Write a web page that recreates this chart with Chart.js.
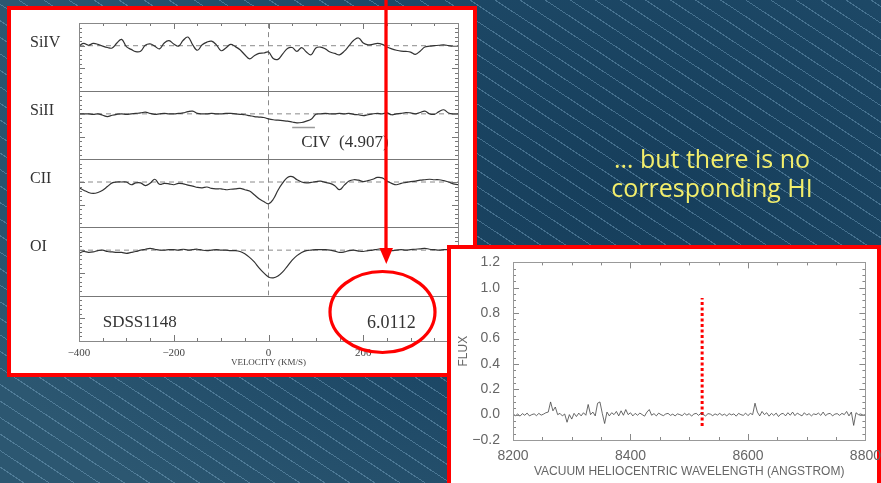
<!DOCTYPE html>
<html>
<head>
<meta charset="utf-8">
<script src="https://cdn.jsdelivr.net/npm/chart.js@4.4.1/dist/chart.umd.min.js"></script>
<style>
html, body { margin: 0; padding: 0; }
body {
  width: 881px; height: 483px; overflow: hidden; position: relative;
  background:
    repeating-linear-gradient(33.4deg, rgba(0,0,0,0) 0px, rgba(0,0,0,0) 12.8px, rgba(140,185,215,0.38) 12.8px, rgba(140,185,215,0.38) 13.8px),
    radial-gradient(ellipse 700px 420px at 640px 190px, #163e5b 0%, #1d4866 55%, #2c5771 100%);
}
.box { position: absolute; background: #fff; border: 4px solid #ff0000; box-sizing: border-box; }
#leftBox { left: 7px; top: 6px; width: 470px; height: 371px; }
#rightBox { left: 447px; top: 245px; width: 434px; height: 260px; }
canvas { position: absolute; }
#leftChart { left: 11px; top: 10px; }
#rightChart { left: 451px; top: 249px; }
#marks { position: absolute; left: 0; top: 0; }
#note {
  position: absolute; left: 560px; top: 144px; width: 304px; text-align: center;
  color: #f3ee6b; font-family: "Comic Sans MS", "Open Sans", sans-serif; font-size: 25px; line-height: 29px;
}
</style>
</head>
<body>
<div class="box" id="leftBox"></div>
<canvas id="leftChart" width="462" height="363"></canvas>
<svg id="marks" width="881" height="483">
  <line x1="386" y1="0" x2="386" y2="250" stroke="#ff0000" stroke-width="3.3"/>
  <polygon points="379.5,248 393,248 386.3,264" fill="#ff0000"/>
  <ellipse cx="382.5" cy="312" rx="52.5" ry="40.5" fill="none" stroke="#ff0000" stroke-width="3.2"/>
</svg>
<div class="box" id="rightBox"></div>
<canvas id="rightChart" width="430" height="234"></canvas>
<div id="note">… but there is no<br>corresponding HI</div>

<script>
// Geschwindigkeit (km/s) - gemeinsames Raster fuer alle vier Linien
var velocity = [
  -400, -390, -380, -370, -360, -350, -340, -330, -320, -310,
  -300, -290, -280, -270, -260, -250, -240, -230, -220, -210,
  -200, -190, -180, -170, -160, -150, -140, -130, -120, -110,
  -100, -90, -80, -70, -60, -50, -40, -30, -20, -10,
  0, 10, 20, 30, 40, 50, 60, 70, 80, 90,
  100, 110, 120, 130, 140, 150, 160, 170, 180, 190,
  200, 210, 220, 230, 240, 250, 260, 270, 280, 290,
  300, 310, 320, 330, 340, 350, 360, 370, 380, 390,
  400
];

var siIV = [
  1.00, 1.05, 1.01, 1.05, 1.03, 0.99, 0.96, 0.95, 1.06, 1.14,
  0.98, 0.92, 0.87, 0.88, 1.01, 1.04, 0.99, 0.93, 1.06, 1.11,
  1.04, 0.99, 1.12, 1.19, 1.02, 0.90, 1.02, 1.08, 1.10, 1.02,
  0.89, 0.95, 1.03, 0.98, 0.91, 0.80, 0.71, 0.78, 0.83, 0.84,
  0.86, 0.72, 0.70, 0.82, 0.94, 0.96, 0.875, 0.96, 0.86, 0.80,
  0.95, 0.97, 0.93, 0.86, 0.83, 0.80, 0.88, 1.00, 1.12, 1.17,
  1.06, 1.02, 1.03, 1.05, 1.03, 0.97, 0.93, 0.90, 0.88, 0.875,
  0.86, 0.81, 0.88, 0.97, 0.99, 1.00, 1.01, 1.02, 1.00, 0.985,
  0.99
];

var siII = [
  1.00, 1.00, 1.00, 0.99, 1.00, 0.97, 0.94, 0.97, 0.99, 1.00,
  0.99, 1.00, 1.01, 1.02, 1.04, 1.01, 0.99, 1.00, 1.01, 1.00,
  1.00, 1.01, 1.02, 1.05, 1.06, 1.01, 1.00, 1.00, 1.01, 1.00,
  1.00, 1.01, 1.01, 1.00, 0.99, 0.98, 0.96, 0.94, 0.93, 0.92,
  0.89, 0.87, 0.86, 0.85, 0.84, 0.82, 0.80, 0.81, 0.84, 0.88,
  0.99, 1.00, 1.01, 1.00, 1.00, 1.01, 1.00, 1.01, 0.99, 0.98,
  0.96, 0.98, 1.00, 1.01, 1.00, 1.02, 0.98, 1.00, 1.01, 1.03,
  1.02, 1.00, 1.03, 1.06, 1.00, 0.99, 1.05, 1.09, 1.02, 1.00,
  1.00
];

var cII = [
  0.87, 0.82, 0.77, 0.75, 0.77, 0.82, 0.90, 0.98, 1.00, 1.00,
  1.00, 0.94, 0.98, 0.98, 0.92, 0.97, 1.06, 0.95, 0.97, 0.96,
  0.94, 0.97, 0.96, 0.93, 0.91, 0.88, 0.87, 0.89, 0.86, 0.85,
  0.85, 0.83, 0.84, 0.85, 0.86, 0.83, 0.80, 0.72, 0.63, 0.57,
  0.52, 0.62, 0.82, 0.98, 1.10, 1.12, 1.05, 1.00, 0.98, 0.99,
  1.01, 1.02, 0.99, 0.97, 0.92, 0.83, 0.93, 1.02, 1.05, 1.04,
  1.01, 1.03, 1.06, 1.10, 1.09, 1.02, 0.97, 0.94, 0.97, 0.99,
  1.01, 1.02, 1.04, 1.05, 1.06, 1.05, 1.05, 1.03, 1.00, 0.96,
  0.94
];

var oI = [
  0.93, 0.97, 0.95, 0.96, 0.99, 1.00, 0.97, 0.96, 0.95, 0.95,
  0.93, 0.95, 0.97, 1.00, 1.02, 1.04, 1.02, 1.00, 1.00, 1.01,
  1.01, 1.00, 1.02, 1.00, 1.01, 1.02, 1.00, 0.99, 1.00, 1.01,
  1.00, 1.00, 0.99, 0.99, 0.97, 0.92, 0.84, 0.74, 0.61, 0.50,
  0.41, 0.39, 0.43, 0.52, 0.65, 0.78, 0.88, 0.95, 0.99, 1.00,
  1.01, 1.01, 1.01, 1.00, 0.98, 0.95, 0.96, 0.99, 1.00, 0.98,
  0.97, 0.99, 1.00, 1.02, 1.03, 1.00, 0.99, 1.00, 1.01, 1.00,
  1.01, 1.02, 1.03, 1.04, 1.02, 1.01, 1.00, 1.01, 1.01, 1.00,
  1.00
];

var ionNames = ['SiIV', 'SiII', 'CII', 'OI'];
var ionSeries = [siIV, siII, cII, oI];
var velocityTicks = [-400, -200, 0, 200, 400];
var civMark = [50, 98];          // Geschwindigkeitsbereich der CIV (4.907) Markierung
var civLevel = 0.70;
var qsoName = 'SDSS1148';
var qsoRedshift = '6.0112';
var civLabel = 'CIV  (4.907)';

// rechtes Spektrum: Wellenlaenge (Angstrom) in 4er Schritten, Fluss
var wavelength = [];
for (var w = 8200; w <= 8800; w += 4) wavelength.push(w);
var flux = [
  0.010, -0.010, 0.005, -0.012, 0.008, -0.005, 0.012, -0.010, 0.000, 0.006,
  -0.008, 0.010, -0.004, 0.004, 0.015, 0.020, 0.100, 0.030, 0.060, 0.000,
  0.010, -0.010, 0.005, -0.060, 0.000, -0.035, 0.010, -0.015, 0.012, -0.010,
  0.015, -0.005, 0.080, 0.000, 0.020, -0.010, 0.090, 0.100, 0.010, -0.070,
  0.020, -0.010, 0.015, 0.000, 0.025, -0.010, 0.030, -0.005, 0.040, 0.000,
  0.015, -0.010, 0.010, -0.005, 0.012, 0.000, -0.012, 0.020, 0.040, -0.005,
  0.008, -0.010, 0.012, 0.000, -0.008, 0.005, 0.010, -0.006, 0.004, -0.010,
  0.006, 0.000, -0.008, 0.010, -0.004, 0.008, -0.012, 0.005, 0.010, -0.006,
  0.012, 0.000, -0.010, 0.008, 0.004, -0.008, 0.006, -0.004, 0.010, -0.006,
  0.004, -0.010, 0.008, -0.002, 0.006, -0.012, 0.010, 0.000, -0.006, 0.012,
  -0.008, 0.010, 0.000, 0.090, 0.020, -0.010, 0.025, 0.000, 0.015, -0.012,
  0.010, -0.006, 0.012, -0.015, 0.005, 0.010, -0.010, 0.015, -0.005, 0.020,
  -0.008, 0.012, 0.000, -0.010, 0.015, -0.004, 0.008, -0.010, 0.006, 0.000,
  0.012, -0.006, 0.020, -0.008, 0.006, 0.010, -0.010, 0.004, 0.008, -0.006,
  0.010, 0.000, 0.025, -0.010, 0.020, -0.085, 0.015, 0.000, 0.005, -0.004,
  0.000
];
var hiWavelength = 8522;          // erwartete Lage von HI (rote Punktlinie)
var hiRange = [-0.09, 0.92];

var minusSign = (s) => String(s).replace('-', '\u2212');

// Rahmen und nach innen zeigende Striche im IDL-Stil
var drawTicks = (chart, o) => {
  var ctx = chart.ctx;
  var a = chart.chartArea;
  var xs = chart.scales.x;
  ctx.save();
  ctx.strokeStyle = o.color;
  ctx.lineWidth = 1;
  ctx.beginPath();
  var n = Math.round((xs.max - xs.min) / o.xMinor);
  for (var i = 0; i <= n; i++) {
    var v = xs.min + i * o.xMinor;
    var px = Math.round(xs.getPixelForValue(v)) + 0.5;
    var len = Math.abs(v / o.xMajor - Math.round(v / o.xMajor)) < 1e-6 ? o.majorLen : o.minorLen;
    ctx.moveTo(px, a.top); ctx.lineTo(px, a.top + len);
    ctx.moveTo(px, a.bottom); ctx.lineTo(px, a.bottom - len);
  }
  o.yAxes.forEach((id, k) => {
    var s = chart.scales[id];
    var m = Math.round((s.max - s.min) / o.yMinor);
    for (var j = 1; j < m; j++) {
      var val = s.min + j * o.yMinor;
      var py = Math.round(s.getPixelForValue(val)) + 0.5;
      var l = Math.abs(val / o.yMajor - Math.round(val / o.yMajor)) < 1e-6 ? o.majorLen : o.minorLen;
      ctx.moveTo(a.left, py); ctx.lineTo(a.left + l, py);
      ctx.moveTo(a.right, py); ctx.lineTo(a.right - l, py);
    }
    if (k < o.yAxes.length - 1) {
      var sy = Math.round(s.bottom) + 0.5;
      ctx.moveTo(a.left, sy); ctx.lineTo(a.right, sy);
    }
  });
  ctx.stroke();
  ctx.strokeStyle = o.frame;
  ctx.strokeRect(Math.round(a.left) + 0.5, Math.round(a.top) + 0.5, Math.round(a.width), Math.round(a.height));
  ctx.restore();
};

var idlFrame = {
  id: 'idlFrame',
  afterDatasetsDraw(chart, args, o) { drawTicks(chart, o); }
};

var panelText = {
  id: 'panelText',
  afterDraw(chart) {
    var ctx = chart.ctx;
    var xs = chart.scales.x;
    ctx.save();
    ctx.fillStyle = '#333';
    ctx.textBaseline = 'middle';
    ctx.font = '16px "Liberation Serif", serif';
    ctx.textAlign = 'left';
    ionNames.forEach((name, i) => {
      var s = chart.scales['p' + (i + 1)];
      ctx.fillText(name, 19, s.getPixelForValue(1) - 3);
    });
    ctx.font = '17px "Liberation Serif", serif';
    ctx.fillText(civLabel, xs.getPixelForValue(69), chart.scales.p2.getPixelForValue(0.375));
    ctx.fillText(qsoName, xs.getPixelForValue(-350), chart.scales.p5.getPixelForValue(0.40));
    ctx.textAlign = 'right';
    ctx.font = '18px "Liberation Serif", serif';
    ctx.fillText(qsoRedshift, xs.getPixelForValue(311), chart.scales.p5.getPixelForValue(0.40));
    ctx.restore();
  }
};

// linkes Diagramm: vier gestapelte Panels + Textpanel
var leftDatasets = [];
ionSeries.forEach((series, i) => {
  var axis = 'p' + (i + 1);
  leftDatasets.push({
    data: velocity.map((v, k) => ({ x: v, y: series[k] })),
    yAxisID: axis, borderColor: '#333', borderWidth: 1.2, pointRadius: 0, tension: 0.4
  });
  leftDatasets.push({
    data: [{ x: velocity[0], y: 1 }, { x: velocity[velocity.length - 1], y: 1 }],
    yAxisID: axis, borderColor: '#8a8a8a', borderWidth: 1, borderDash: [5, 4], pointRadius: 0
  });
  leftDatasets.push({
    data: [{ x: 0, y: 0 }, { x: 0, y: 1.5 }],
    yAxisID: axis, borderColor: '#8a8a8a', borderWidth: 1, borderDash: [5, 4], pointRadius: 0
  });
});
leftDatasets.push({
  data: civMark.map((v) => ({ x: v, y: civLevel })),
  yAxisID: 'p2', borderColor: '#999', borderWidth: 1.5, pointRadius: 0
});

var panelAxis = (weight, max) => ({
  type: 'linear', position: 'left', stack: 'panels', stackWeight: weight,
  min: 0, max: max, offset: false,
  ticks: { display: false }, grid: { display: false }, border: { display: false },
  afterFit: (s) => { s.width = 0; }
});

var leftCtx = document.getElementById('leftChart').getContext('2d');
new Chart(leftCtx, {
  type: 'line',
  data: { datasets: leftDatasets },
  options: {
    responsive: false, animation: false, devicePixelRatio: 1,
    layout: { padding: { left: 68, top: 13, right: 15, bottom: 0 } },
    plugins: {
      legend: { display: false }, tooltip: { enabled: false },
      idlFrame: { color: '#777', frame: '#888', xMinor: 50, xMajor: 200, yMinor: 0.1, yMajor: 0.5,
                  minorLen: 3, majorLen: 6, yAxes: ['p1', 'p2', 'p3', 'p4', 'p5'] }
    },
    scales: {
      x: {
        type: 'linear', min: -400, max: 400,
        afterBuildTicks: (s) => { s.ticks = velocityTicks.map((v) => ({ value: v })); },
        ticks: { callback: minusSign, color: '#444', padding: -2, maxRotation: 0,
                 font: { family: '"Liberation Serif", serif', size: 11 } },
        grid: { display: false }, border: { display: false },
        title: { display: true, text: 'VELOCITY (KM/S)', color: '#444',
                 font: { family: '"Liberation Serif", serif', size: 9 }, padding: { top: 0, bottom: 4.5 } },
        afterFit: (s) => { s.height = 32; }
      },
      // oberstes Panel zuletzt, damit es oben im Stapel landet
      p5: panelAxis(1, 1),
      p4: panelAxis(1.5, 1.5),
      p3: panelAxis(1.5, 1.5),
      p2: panelAxis(1.5, 1.5),
      p1: panelAxis(1.5, 1.5)
    }
  },
  plugins: [idlFrame, panelText]
});

// rechtes Diagramm: Fluss gegen Wellenlaenge
var rightCtx = document.getElementById('rightChart').getContext('2d');
new Chart(rightCtx, {
  type: 'line',
  data: {
    datasets: [
      { data: wavelength.map((w, k) => ({ x: w, y: flux[k] })),
        borderColor: '#444', borderWidth: 0.8, pointRadius: 0, tension: 0 },
      { data: hiRange.map((f) => ({ x: hiWavelength, y: f })),
        borderColor: '#ff0000', borderWidth: 3, borderDash: [3, 2.5], pointRadius: 0 }
    ]
  },
  options: {
    responsive: false, animation: false, devicePixelRatio: 1,
    layout: { padding: { left: 0, top: 12, right: 15, bottom: 0 } },
    plugins: {
      legend: { display: false }, tooltip: { enabled: false },
      idlFrame: { color: '#888', frame: '#999', xMinor: 50, xMajor: 200, yMinor: 0.05, yMajor: 0.2,
                  minorLen: 3, majorLen: 6, yAxes: ['y'] }
    },
    scales: {
      x: {
        type: 'linear', min: 8200, max: 8800,
        ticks: { stepSize: 200, color: '#666', padding: 0, maxRotation: 0,
                 font: { family: '"Liberation Sans", sans-serif', size: 14 },
                 callback: (v) => String(v) },
        grid: { display: false }, border: { display: false },
        title: { display: true, text: 'VACUUM HELIOCENTRIC WAVELENGTH (ANGSTROM)', color: '#666',
                 font: { family: '"Liberation Sans", sans-serif', size: 12 }, padding: { top: 0, bottom: 4 } },
        afterFit: (s) => { s.height = 43; }
      },
      y: {
        type: 'linear', min: -0.2, max: 1.2,
        ticks: { stepSize: 0.2, color: '#666', padding: 5,
                 font: { family: '"Liberation Sans", sans-serif', size: 14 },
                 callback: (v) => minusSign(Math.abs(v) < 1e-9 ? '0.0' : v.toFixed(1)) },
        grid: { display: false }, border: { display: false },
        title: { display: true, text: 'FLUX', color: '#666',
                 font: { family: '"Liberation Sans", sans-serif', size: 12 }, padding: { top: 5, bottom: 0 } },
        afterFit: (s) => { s.width = 62; }
      }
    }
  },
  plugins: [idlFrame]
});
</script>
</body>
</html>
